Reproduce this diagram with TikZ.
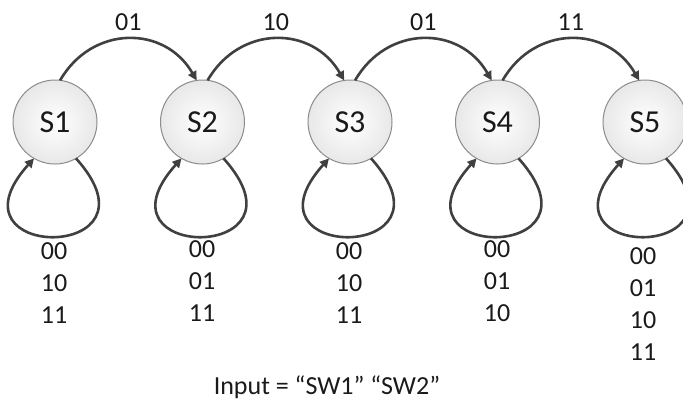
\documentclass[tikz,border=0pt]{standalone}
\usepackage{fontspec}
\setmainfont{Carlito}
\usetikzlibrary{arrows.meta,positioning}
\definecolor{Edge}{HTML}{404040}
\definecolor{Rim}{HTML}{8C8C8C}
\definecolor{Ink}{HTML}{1A1A1A}

\begin{document}
\begin{tikzpicture}[x=0.5pt,y=-0.5pt,node distance=31.75pt,
state/.style={circle,draw=Rim,line width=.5pt,inner color=white,outer color=gray!18,minimum size=42pt,inner sep=0pt,outer sep=0pt,text=Ink,font=\fontsize{16}{18}\selectfont},
arrow/.style={-{Triangle[length=4.5pt,width=4.5pt]},line width=1.3pt,draw=Edge},
hop/.style={arrow,out=60,in=120,distance=32pt},
self/.style={arrow,out=-48,in=-132,distance=70pt},
lbl/.style={text=Ink,font=\fontsize{13}{15}\selectfont,above=0pt,midway},
inputs/.style={text=Ink,align=center,font=\fontsize{13}{16}\selectfont}]
\useasboundingbox (0,0) rectangle (683,404);
\node[state] (S1) at (55,122) {S1};
\node[state,right=of S1] (S2) {S2};
\node[state,right=of S2] (S3) {S3};
\node[state,right=of S3] (S4) {S4};
\node[state,right=of S4] (S5) {S5};
% transitions between states
\draw[hop] (S1.83) to node[lbl]{01} (S2.98);
\draw[hop] (S2.83) to node[lbl]{10} (S3.98);
\draw[hop] (S3.83) to node[lbl]{01} (S4.98);
\draw[hop] (S4.83) to node[lbl]{11} (S5.98);
% staying in the same state
\draw[self] (S1.-60) to (S1.-120);
\draw[self] (S2.-60) to (S2.-120);
\draw[self] (S3.-60) to (S3.-120);
\draw[self] (S4.-60) to (S4.-120);
\draw[self] (S5.-60) to (S5.-120);
\node[inputs] (in1) at (54,283) {00\\10\\11};
\node[inputs] (in2) at (202,281) {00\\01\\11};
\node[inputs] (in3) at (349,283) {00\\10\\11};
\node[inputs] (in4) at (497,281) {00\\01\\10};
\node[inputs] (in5) at (643,304) {00\\01\\10\\11};
\node[text=Ink,font=\fontsize{13}{15}\selectfont] (key) at (327,387) {Input = “SW1” “SW2”};
\end{tikzpicture}
\end{document}
